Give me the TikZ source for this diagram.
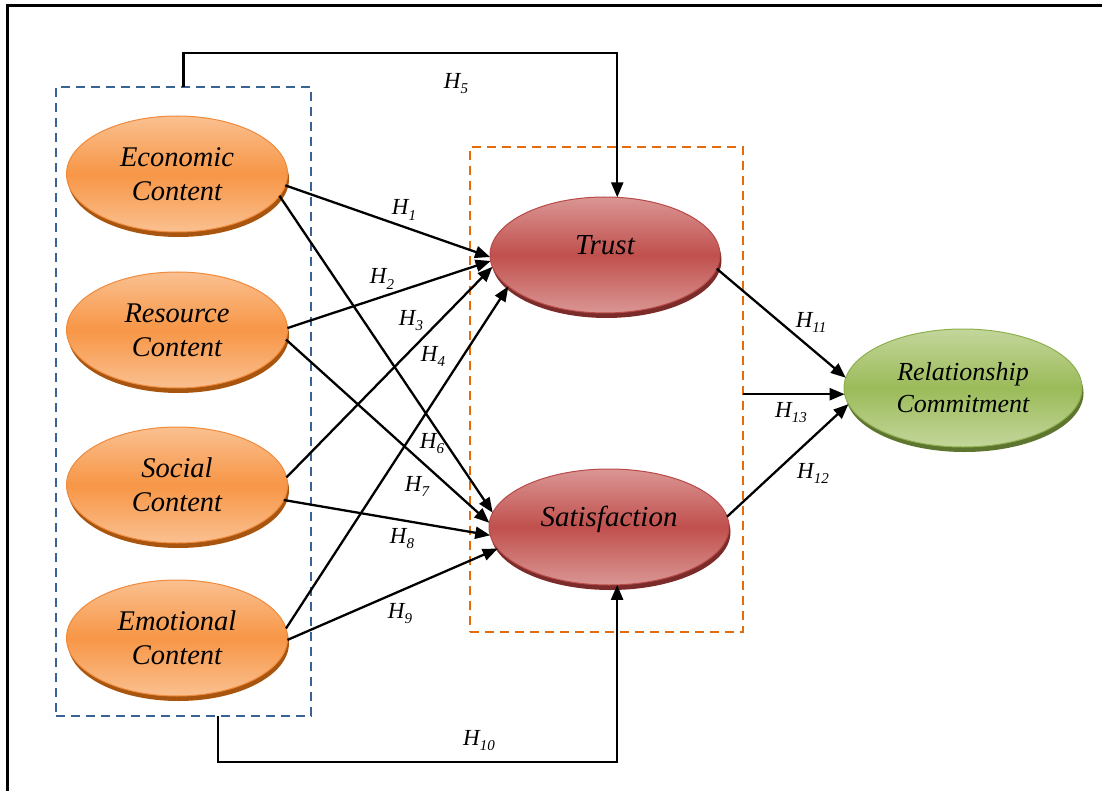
\documentclass[tikz,border=0pt]{standalone}
\usepackage{fontspec}
\setmainfont{Liberation Serif}
\usetikzlibrary{arrows.meta,shapes.geometric,shadows}

% palette
\definecolor{orLight}{HTML}{FAC090}
\definecolor{orMid}{HTML}{F79646}
\definecolor{orEdge}{HTML}{F08A3C}
\definecolor{orShade}{HTML}{A8550F}
\definecolor{rdLight}{HTML}{DA9694}
\definecolor{rdMid}{HTML}{C0504D}
\definecolor{rdEdge}{HTML}{B84A47}
\definecolor{rdShade}{HTML}{7B2C2A}
\definecolor{grLight}{HTML}{C3D69B}
\definecolor{grMid}{HTML}{9BBB59}
\definecolor{grEdge}{HTML}{8EAF4E}
\definecolor{grShade}{HTML}{5E7530}
\definecolor{boxBlue}{HTML}{3A6294}
\definecolor{boxOrange}{HTML}{E46C0A}

% hypothesis label: italic H with a lowered index
\newcommand{\hy}[1]{H\raisebox{-0.22em}{\fontsize{15}{15}\selectfont #1}}

\begin{document}
\begin{tikzpicture}[x=1pt,y=-1pt,
  construct/.style={ellipse, inner sep=0pt, outer sep=0pt, align=center,
    line width=1pt, font=\fontsize{28.5}{34}\selectfont\itshape},
  orangeC/.style={construct, minimum width=221pt, minimum height=116pt,
    draw=orEdge, top color=orLight, bottom color=orLight, middle color=orMid,
    drop shadow={shadow xshift=1.5pt, shadow yshift=-5pt, fill=orShade, opacity=1}},
  redC/.style={construct, minimum height=116pt, font=\fontsize{29}{34}\selectfont\itshape,
    draw=rdEdge, top color=rdLight, bottom color=rdLight, middle color=rdMid,
    drop shadow={shadow xshift=1.5pt, shadow yshift=-5pt, fill=rdShade, opacity=1}},
  greenC/.style={construct, minimum width=238pt, minimum height=118pt,
    font=\fontsize{26}{32}\selectfont\itshape,
    draw=grEdge, top color=grLight, bottom color=grLight, middle color=grMid,
    drop shadow={shadow xshift=1.5pt, shadow yshift=-5pt, fill=grShade, opacity=1}},
  groupbox/.style={draw, line width=2.2pt, dash pattern=on 9pt off 6pt,
    inner sep=0pt, outer sep=0pt},
  link/.style={line width=2.3pt, -{Triangle[length=15pt,width=12pt]}},
  hyp/.style={font=\fontsize{23}{25}\selectfont\itshape, inner sep=0pt},
]
\useasboundingbox (0,0) rectangle (1102,791);

% outer frame
\draw[line width=2.2pt] (7.5,791) -- (7.5,5.5) -- (1102,5.5);

% group boxes
\node[groupbox, draw=boxBlue, minimum width=255pt, minimum height=629pt] (lbox) at (183.5,401.5) {};
\node[groupbox, draw=boxOrange, minimum width=273pt, minimum height=485pt] (obox) at (606.5,389.5) {};

% content constructs
\node[orangeC] (eco) at (177,174) {Economic\\Content};
\node[orangeC] (res) at (177,330) {Resource\\Content};
\node[orangeC] (soc) at (177,485) {Social\\Content};
\node[orangeC] (emo) at (177,638) {Emotional\\Content};

% mediators and outcome
\node[redC, minimum width=230pt] (trust) at (605,255) {\raisebox{19pt}{Trust}};
\node[redC, minimum width=240pt] (sat) at (609,527) {\raisebox{21pt}{Satisfaction}};
\node[greenC] (rel) at (963,388) {Relationship\\Commitment};

% paths to trust
\draw[link] (eco.-6) -- (trust.181);
\draw[link] (res.1) -- (trust.183);
\draw[link] (soc.4) -- (trust.186);
\draw[link] (emo.5) -- (trust.198);
% paths to satisfaction
\draw[link] (eco.-12) -- (sat.173);
\draw[link] (res.-5) -- (sat.178);
\draw[link] (soc.-8) -- (sat.184);
\draw[link] (emo.-1) -- (sat.191);
% group paths
\coordinate (h5corner) at (183.5,53);
\draw[link] (lbox.north) -- (h5corner) -| (trust.78);
\coordinate (h10start) at (218,716);
\draw[link] (h10start) -- ++(0,46) -| (sat.-82);
% paths to commitment
\draw[link] (trust.-7) -- (rel.175);
\draw[link] (sat.5) -- (rel.188);
\draw[link] (rel.183 -| obox.east) -- (rel.183);

% hypothesis labels
\node[hyp] (l1) at (404,210) {\hy{1}};
\node[hyp] (l2) at (382,279) {\hy{2}};
\node[hyp] (l3) at (411,321) {\hy{3}};
\node[hyp] (l4) at (433,356) {\hy{4}};
\node[hyp] (l5) at (456,84) {\hy{5}};
\node[hyp] (l6) at (432,444) {\hy{6}};
\node[hyp] (l7) at (417,486) {\hy{7}};
\node[hyp] (l8) at (402,539) {\hy{8}};
\node[hyp] (l9) at (400,614) {\hy{9}};
\node[hyp] (l10) at (479,741) {\hy{10}};
\node[hyp] (l11) at (811,322) {\hy{11}};
\node[hyp] (l12) at (813,473) {\hy{12}};
\node[hyp] (l13) at (791,413) {\hy{13}};
\end{tikzpicture}
\end{document}
